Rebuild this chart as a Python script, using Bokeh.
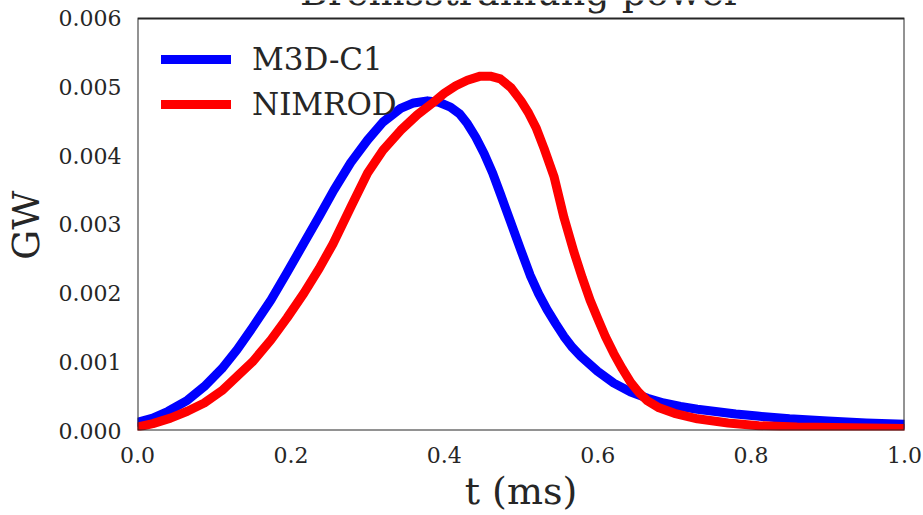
from bokeh.plotting import figure
from bokeh.models import (Range1d, FixedTicker, NumeralTickFormatter, Legend, LegendItem,
                          Label)
from bokeh.embed import file_html
from bokeh.resources import INLINE

# ---- data ----
m3d_t = [0, 0.02, 0.04, 0.065, 0.087, 0.11, 0.13, 0.15, 0.174, 0.195, 0.217, 0.237,
         0.256, 0.278, 0.30, 0.32, 0.343, 0.36, 0.378, 0.393, 0.408, 0.42, 0.43, 0.441,
         0.452, 0.463, 0.473, 0.486, 0.499, 0.512, 0.523, 0.534, 0.545, 0.556, 0.567,
         0.578, 0.60, 0.621, 0.643, 0.665, 0.686, 0.708, 0.73, 0.751, 0.78, 0.808, 0.85,
         0.9, 0.95, 1.0]
m3d_p = [0.00012, 0.00018, 0.00028, 0.00044, 0.00064, 0.0009, 0.00118, 0.0015, 0.0019,
         0.0023, 0.00273, 0.00312, 0.0035, 0.0039, 0.00423, 0.00449, 0.00469, 0.00477,
         0.0048, 0.00478, 0.00471, 0.00461, 0.00447, 0.00427, 0.00403, 0.00375, 0.00345,
         0.00305, 0.00265, 0.00226, 0.00199, 0.00176, 0.00156, 0.00137, 0.00121, 0.00108,
         0.00086, 0.00069, 0.00056, 0.00047, 0.0004, 0.00035, 0.00031, 0.00028, 0.00024,
         0.00021, 0.00017, 0.00014, 0.00011, 0.00009]

nim_t = [0, 0.02, 0.043, 0.065, 0.087, 0.11, 0.13, 0.15, 0.174, 0.195, 0.217, 0.237,
         0.255, 0.278, 0.30, 0.32, 0.343, 0.365, 0.386, 0.40, 0.415, 0.43, 0.447, 0.46,
         0.473, 0.487, 0.50, 0.51, 0.52, 0.53, 0.543, 0.556, 0.569, 0.58, 0.59, 0.60,
         0.61, 0.621, 0.632, 0.643, 0.654, 0.665, 0.68, 0.70, 0.73, 0.77, 0.81, 0.86,
         0.93, 1.0]
nim_p = [0.00005, 0.0001, 0.00018, 0.00028, 0.0004, 0.00058, 0.00079, 0.001, 0.00132,
         0.00164, 0.002, 0.00236, 0.00272, 0.00325, 0.00375, 0.00408, 0.00437, 0.0046,
         0.00478, 0.00491, 0.00502, 0.0051, 0.00516, 0.00516, 0.00512, 0.00499, 0.0048,
         0.00462, 0.0044, 0.00411, 0.0037, 0.0031, 0.0026, 0.00222, 0.0019, 0.00163,
         0.00137, 0.00112, 0.0009, 0.0007, 0.00055, 0.00043, 0.00033, 0.00025, 0.00017,
         0.00011, 0.00007, 0.00005, 0.00004, 0.00003]

series_names = ["M3D-C1", "NIMROD"]
x_ticks = [0.0, 0.2, 0.4, 0.6, 0.8, 1.0]
y_ticks = [0.0, 0.001, 0.002, 0.003, 0.004, 0.005, 0.006]
x_min, x_max, y_min, y_max = 0.0, 1.0, 0.0, 0.006
title_text = "Bremsstrahlung power"
x_label = "t (ms)"
y_label = "GW"

FONT = "DejaVu Serif"
TXT = "#262626"
BOX_H = 413                      # px height of the axes box
TOP_GAP = 18                     # px between axes box and top of canvas
y_top = y_max * (BOX_H + TOP_GAP) / BOX_H   # plot area reaches to the top edge

p = figure(width=923, height=515, output_backend="svg", toolbar_location=None,
           x_range=Range1d(x_min, x_max), y_range=Range1d(y_min, y_top),
           min_border_left=137, min_border_right=19, min_border_top=0,
           min_border_bottom=84, background_fill_color="white",
           border_fill_color="white")

p.outline_line_color = None
p.grid.visible = False

for ax in (p.xaxis[0], p.yaxis[0]):
    ax.axis_line_color = None
    ax.major_tick_out = 0
    ax.major_tick_in = 0
    ax.minor_tick_line_color = None
    ax.major_label_text_font = FONT
    ax.major_label_text_font_size = "22px"
    ax.major_label_text_color = TXT
    ax.axis_label_text_font = FONT
    ax.axis_label_text_font_size = "38px"
    ax.axis_label_text_font_style = "normal"
    ax.axis_label_text_color = TXT

p.xaxis.ticker = FixedTicker(ticks=x_ticks)
p.xaxis.formatter = NumeralTickFormatter(format="0.0")
p.xaxis.major_label_standoff = 16
p.xaxis.axis_label = x_label
p.xaxis.axis_label_standoff = 3

p.yaxis.ticker = FixedTicker(ticks=y_ticks)
p.yaxis.formatter = NumeralTickFormatter(format="0.000")
p.yaxis.major_label_standoff = 16
# trailing non-breaking + thin space nudges the centred label down to the box centre
p.yaxis.axis_label = y_label + "\u00a0\u2009"
p.yaxis.axis_label_standoff = 8

r1 = p.line(m3d_t, m3d_p, line_color="#0000ff", line_width=9,
            line_cap="round", line_join="round")
r2 = p.line(nim_t, nim_p, line_color="#ff0000", line_width=9,
            line_cap="round", line_join="round")

# the axes box (x_min..x_max by y_min..y_max), drawn over the curves
p.quad(left=[x_min], right=[x_max], bottom=[y_min], top=[y_max],
       fill_color=None, line_color=TXT, line_width=2)

legend = Legend(items=[LegendItem(label=series_names[0], renderers=[r1]),
                       LegendItem(label=series_names[1], renderers=[r2])],
                location=(24, 306))
legend.label_text_font = FONT
legend.label_text_font_size = "31px"
legend.label_text_color = TXT
legend.glyph_width = 70
legend.glyph_height = 40
legend.label_height = 40
legend.spacing = 5
legend.padding = 10
legend.margin = 0
legend.label_standoff = 21
legend.border_line_color = None
legend.background_fill_alpha = 0
p.add_layout(legend, "center")

# title, partly cut off at the top edge as in the reference
p.add_layout(Label(x=0.5, y=BOX_H + 8 + 18, y_units="screen", text=title_text,
                   text_font=FONT, text_font_size="38px", text_color=TXT,
                   text_align="center", text_baseline="alphabetic"))

open("out.html", "w").write(file_html(p, INLINE))
